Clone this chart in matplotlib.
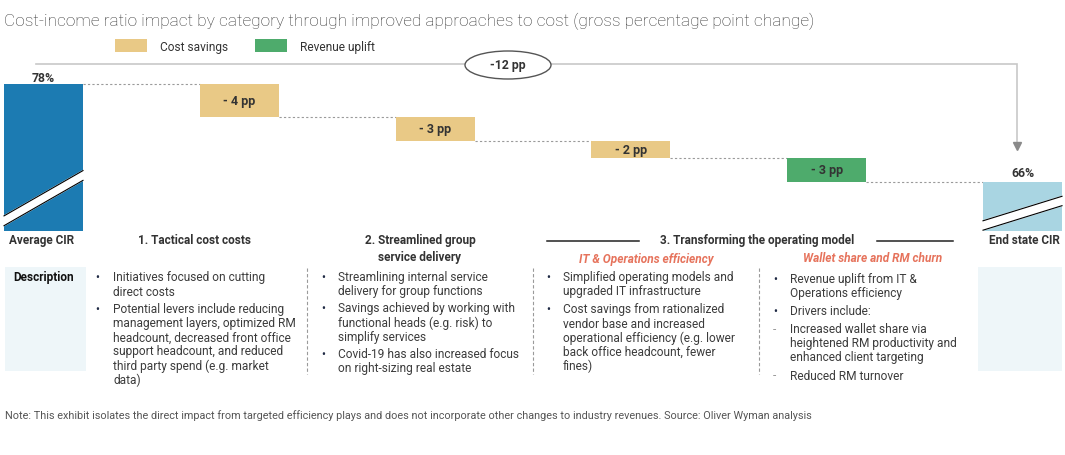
import matplotlib.pyplot as plt
from matplotlib.patches import Ellipse, Rectangle
from matplotlib.lines import Line2D

plt.rcParams['font.family'] = ['Roboto', 'DejaVu Sans']

start_cir = 78
end_cir = 66
deltas = [-4, -3, -2, -3]
delta_types = ["cost", "cost", "cost", "revenue"]
delta_labels = ["- 4 pp", "- 3 pp", "- 2 pp", "- 3 pp"]
total_label = "-12 pp"
legend_labels = ["Cost savings", "Revenue uplift"]

title = ("Cost-income ratio impact by category through improved approaches to cost "
         "(gross percentage point change)")
headers = ["Average CIR", "1. Tactical cost costs",
           "2. Streamlined group\nservice delivery",
           "3. Transforming the operating model", "End state CIR"]
subheaders = ["IT & Operations efficiency", "Wallet share and RM churn"]

col1_items = [("•", "Initiatives focused on cutting\ndirect costs"),
              ("•", "Potential levers include reducing\nmanagement layers, optimized RM\n"
                    "headcount, decreased front office\nsupport headcount, and reduced\n"
                    "third party spend (e.g. market\ndata)")]
col2_items = [("•", "Streamlining internal service\ndelivery for group functions"),
              ("•", "Savings achieved by working with\nfunctional heads (e.g. risk) to\nsimplify services"),
              ("•", "Covid-19 has also increased focus\non right-sizing real estate")]
col3_items = [("•", "Simplified operating models and\nupgraded IT infrastructure"),
              ("•", "Cost savings from rationalized\nvendor base and increased\n"
                    "operational efficiency (e.g. lower\nback office headcount, fewer\nfines)")]
col4_items = [("•", "Revenue uplift from IT &\nOperations efficiency"),
              ("•", "Drivers include:"),
              ("-", "Increased wallet share via\nheightened RM productivity and\nenhanced client targeting"),
              ("-", "Reduced RM turnover")]

note = ("Note: This exhibit isolates the direct impact from targeted efficiency plays and does not "
        "incorporate other changes to industry revenues. Source: Oliver Wyman analysis")

# ---- styles ----
BLUE = '#1c7bb2'
LIGHT_BLUE = '#a9d5e2'
GOLD = '#e9c986'
GREEN = '#4eab6c'
PANEL = '#eef6f9'
ORANGE = '#e6735c'
DARK = '#333333'
BODY = '#3c3c3c'
type_colors = {"cost": GOLD, "revenue": GREEN}

W, H = 1065, 456
fig = plt.figure(figsize=(W / 100, H / 100), dpi=100)


def fx(x):
    return x / W


def fy(y):
    return 1 - y / H


# chart axes: value 60 at px 232, 8.167 px per point, bar pitch 195.8 px
pitch = 195.8
ppv = 147 / 18
base = 60
ax = fig.add_axes([0, fy(232), 1, 172 / H])
ax.set_xlim(-43.5 / pitch, (W - 43.5) / pitch)
ax.set_ylim(base, base + 172 / ppv)
ax.axis('off')
bw = 79 / pitch

levels = [start_cir]
for d in deltas:
    levels.append(levels[-1] + d)

ax.bar(0, start_cir - base, bottom=base, width=bw, color=BLUE, zorder=2)
for i, (d, t, lab) in enumerate(zip(deltas, delta_types, delta_labels)):
    ax.bar(i + 1, -d, bottom=levels[i + 1], width=bw, color=type_colors[t], zorder=2)
    ax.text(i + 1, (levels[i] + levels[i + 1]) / 2, lab, ha='center', va='center',
            fontsize=9, fontweight='bold', color=DARK, zorder=4)
ax.bar(5, end_cir - base, bottom=base, width=bw, color=LIGHT_BLUE, zorder=2)

ax.text(0, start_cir + 0.8, f"{start_cir}%", ha='center', va='center',
        fontsize=8.8, fontweight='bold', color=DARK)
ax.text(5, end_cir + 1.15, f"{end_cir}%", ha='center', va='center',
        fontsize=8.8, fontweight='bold', color=DARK)

# dotted connectors
for i, lv in enumerate(levels):
    ax.plot([i + bw / 2, i + 1 - bw / 2], [lv, lv], color='#9a9a9a', lw=0.8,
            ls=(0, (2, 2)), zorder=1)

# axis-break stripes
for xc, lo_l, lo_r, gap in [(0, 60.65, 66.2, 1.2), (5, 60.1, 63.1, 1.15)]:
    xl, xr = xc - bw / 2, xc + bw / 2
    ax.fill([xl, xr, xr, xl], [lo_l, lo_r, lo_r + gap, lo_l + gap], color='white', zorder=3)
    ax.plot([xl, xr], [lo_l, lo_r], color='black', lw=0.8, zorder=3)
    ax.plot([xl, xr], [lo_l + gap, lo_r + gap], color='black', lw=0.8, zorder=3)

# total bracket with arrow
top_lv = start_cir + 2.45
x0, x1 = -0.038, 4.972
ax.plot([x0, x1, x1], [top_lv, top_lv, end_cir + 4.6], color='#c8c8c8', lw=1.2,
        solid_joinstyle='miter', clip_on=False)
ax.plot([x1], [end_cir + 4.35], marker='v', markersize=6, color='#8a8a8a', clip_on=False)
fig.add_artist(Ellipse((fx(508), fy(66)), 86 / W, 28 / H, transform=fig.transFigure,
                       facecolor='white', edgecolor='#555555', lw=1))
fig.text(fx(508), fy(66), total_label, ha='center', va='center', fontsize=8.8,
         fontweight='bold', color=DARK)

# title and legend
fig.text(fx(4), fy(21), title, ha='left', va='center', fontsize=12.4, fontweight='light',
         color='#333333')
for (x, lab, c) in [(115, legend_labels[0], GOLD), (255, legend_labels[1], GREEN)]:
    fig.add_artist(Rectangle((fx(x), fy(53)), 32 / W, 13 / H, transform=fig.transFigure,
                             facecolor=c, edgecolor='none'))
    fig.text(fx(x + 45), fy(48), lab, ha='left', va='center', fontsize=8.6, color=DARK)

# column headers
for (x, y, s) in [(42, 241, headers[0]), (195, 241, headers[1]),
                  (420, 249, headers[2]), (757, 241, headers[3]),
                  (1024, 241, headers[4])]:
    fig.text(fx(x), fy(y), s, ha='center', va='center', fontsize=8.5, fontweight='bold',
             color=DARK, linespacing=1.3)
for (xa, xb) in [(547, 639), (877, 953)]:
    fig.add_artist(Line2D([fx(xa), fx(xb)], [fy(242), fy(242)], transform=fig.transFigure,
                          color='#222222', lw=1.1))
fig.text(fx(646), fy(260), subheaders[0], ha='center', va='center', fontsize=8.6,
         fontweight='bold', style='italic', color=ORANGE)
fig.text(fx(873), fy(259), subheaders[1], ha='center', va='center', fontsize=8.6,
         fontweight='bold', style='italic', color=ORANGE)

# description panels
for (xa, xb) in [(5, 86), (978, 1062)]:
    fig.add_artist(Rectangle((fx(xa), fy(372)), (xb - xa) / W, 104 / H,
                             transform=fig.transFigure, facecolor=PANEL, edgecolor='none'))
fig.text(fx(44), fy(278), "Description", ha='center', va='center', fontsize=8.5,
         fontweight='bold', color='#111111')

# dashed separators
for x in [307, 533, 759]:
    fig.add_artist(Line2D([fx(x), fx(x)], [fy(269), fy(375)], transform=fig.transFigure,
                          color='#9a9a9a', lw=0.8, ls=(0, (3, 2))))


def bullets(items, xb, xt, y_starts):
    for (mark, txt), y in zip(items, y_starts):
        top = fy(y - 6.5)
        fig.text(fx(xb), top, mark, ha='left', va='top', fontsize=8.6,
                 color='#1f2a44' if mark == "•" else '#999999')
        fig.text(fx(xt), top, txt, ha='left', va='top', fontsize=8.6,
                 color=BODY, linespacing=1.1)


bullets(col1_items, 95, 113, [278, 310])
bullets(col2_items, 321, 338, [277, 309, 355])
bullets(col3_items, 546, 563, [278, 310])
bullets(col4_items, 773, 790, [279, 312, 330, 376])

fig.text(fx(5), fy(416), note, ha='left', va='center', fontsize=7.8, color='#555555')

fig.savefig('out.png', dpi=100)
